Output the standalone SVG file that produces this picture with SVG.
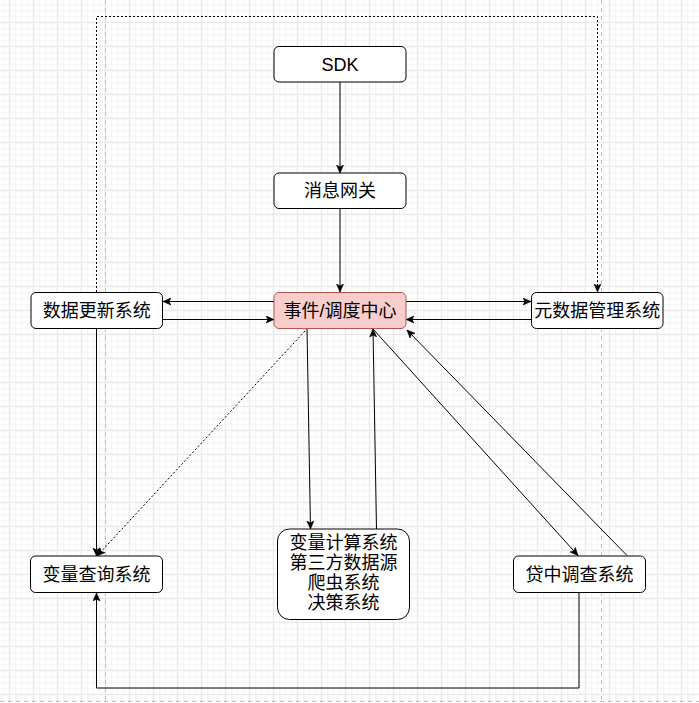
<svg xmlns="http://www.w3.org/2000/svg" width="699" height="703" viewBox="0 0 699 703">
<defs>
<style>
.node rect{fill:#fff;stroke:#000;stroke-width:1}
.node text{font-family:"Liberation Sans","Noto Sans CJK SC",sans-serif;font-size:18px;fill:#000;text-anchor:middle;dominant-baseline:central}
.c{fill:none;stroke:#000;stroke-width:1}
.dot{stroke-dasharray:2 2}
</style>
<pattern id="minor" width="6" height="6" patternUnits="userSpaceOnUse" x="3.3" y="4.3">
<path d="M0,0.5H6M0.5,0V6" fill="none" stroke="#f4f4f4" stroke-width="1"/>
</pattern>
<pattern id="major" width="24" height="24" patternUnits="userSpaceOnUse" x="8.8" y="21.8">
<path d="M0,0.5H24M0.5,0V24" fill="none" stroke="#e6e6e6" stroke-width="1"/>
</pattern>
<marker id="arr" markerWidth="10" markerHeight="10" refX="8" refY="4" orient="auto" markerUnits="userSpaceOnUse">
<path d="M0,0.5 L8,4 L0,7.5 L2,4 z" fill="#000" stroke="#000" stroke-width="0.6"/>
</marker>
</defs>
<rect width="699" height="703" fill="#fff"/>
<rect width="699" height="703" fill="url(#minor)"/>
<rect width="699" height="703" fill="url(#major)"/>
<g id="pages" stroke="#c0c0c0" stroke-width="1" stroke-dasharray="4 4" fill="none">
<path d="M105.5,0V703M601.5,0V703M0,701.5H699"/>
</g>
<g id="connectors">
<path class="c" d="M340,82V173" marker-end="url(#arr)"/>
<path class="c" d="M340,208V292" marker-end="url(#arr)"/>
<path class="c" d="M274,301.5H163" marker-end="url(#arr)"/>
<path class="c" d="M163,319.5H274" marker-end="url(#arr)"/>
<path class="c" d="M406,301.5H531" marker-end="url(#arr)"/>
<path class="c" d="M531,319.5H406" marker-end="url(#arr)"/>
<path class="c" d="M307,328.5L310.5,529" marker-end="url(#arr)"/>
<path class="c" d="M376.5,529L373,329" marker-end="url(#arr)"/>
<path class="c" d="M373,329L578,555.5" marker-end="url(#arr)"/>
<path class="c" d="M627,555.5L407,330" marker-end="url(#arr)"/>
<path class="c dot" d="M305,331L97,556" marker-end="url(#arr)"/>
<path class="c" d="M96.5,328.5V556" marker-end="url(#arr)"/>
<path class="c" d="M579,592.5V688H96.5V593" marker-end="url(#arr)"/>
<path class="c dot" d="M96.5,292V16.5H597.5V292" marker-end="url(#arr)"/>
</g>
<g id="sdk" class="node"><rect x="274" y="46.5" width="132" height="35.5" rx="5"/><text x="340" y="64.5">SDK</text></g>
<g id="gateway" class="node"><rect x="274" y="173" width="132" height="35.5" rx="5"/><text x="340" y="190.5">消息网关</text></g>
<g id="center" class="node"><rect x="274" y="292.5" width="132" height="36" rx="5" style="fill:#f8cecc;stroke:#b85450"/><text x="340" y="310.5">事件/调度中心</text></g>
<g id="dataupdate" class="node"><rect x="31" y="292.5" width="131.5" height="36" rx="5"/><text x="96.75" y="310.5">数据更新系统</text></g>
<g id="meta" class="node"><rect x="531.5" y="292.5" width="131.5" height="36" rx="5"/><text x="597.25" y="310.5">元数据管理系统</text></g>
<g id="multi" class="node"><rect x="277.5" y="529" width="132" height="90.5" rx="12"/>
<text x="343.5" y="542.5">变量计算系统</text><text x="343.5" y="562.5">第三方数据源</text><text x="343.5" y="582.5">爬虫系统</text><text x="343.5" y="602.5">决策系统</text></g>
<g id="loan" class="node"><rect x="513.5" y="556" width="132" height="36.5" rx="5"/><text x="579.5" y="574.5">贷中调查系统</text></g>
<g id="varquery" class="node"><rect x="30.5" y="556" width="132" height="36.5" rx="5"/><text x="96.5" y="574.5">变量查询系统</text></g>
</svg>
